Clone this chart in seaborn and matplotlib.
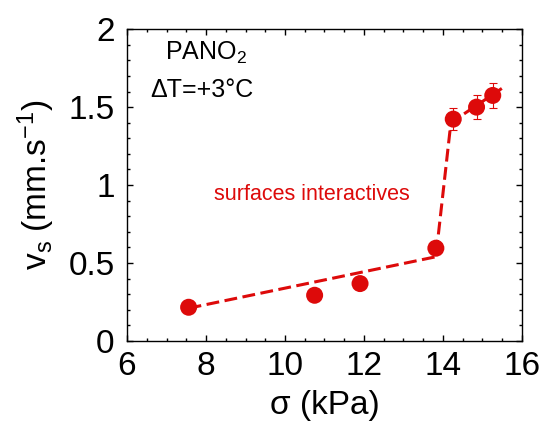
import matplotlib
matplotlib.use("Agg")
import matplotlib.pyplot as plt
import pandas as pd
import numpy as np
import seaborn as sns
from matplotlib.ticker import MultipleLocator

# measured points
sigma = [7.56, 10.75, 11.9, 13.82, 14.26, 14.85, 15.26]
vs = [0.216, 0.293, 0.368, 0.595, 1.423, 1.50, 1.575]
vs_err = [0, 0, 0, 0, 0.07, 0.075, 0.078]

# dashed guide line
fit_sigma = [7.56, 13.82, 14.2, 15.49]
fit_vs = [0.21, 0.54, 1.40, 1.62]

df = pd.DataFrame({"sigma": sigma, "vs": vs, "err": vs_err})
df_fit = pd.DataFrame({"sigma": fit_sigma, "vs": fit_vs})

sns.set_style("ticks")
plt.rcParams["font.family"] = ["Liberation Sans", "DejaVu Sans"]
plt.rcParams["mathtext.fontset"] = "custom"
plt.rcParams["mathtext.rm"] = "Liberation Sans"
plt.rcParams["mathtext.it"] = "Liberation Sans"
plt.rcParams["mathtext.default"] = "regular"
plt.rcParams["text.color"] = "black"
plt.rcParams["axes.labelcolor"] = "black"

red = "#dd0a0a"
fig = plt.figure(figsize=(5.44, 4.23), dpi=100)
ax = fig.add_axes([0.2335, 0.194, 0.726, 0.737])

sns.lineplot(data=df_fit, x="sigma", y="vs", sort=False, color=red, lw=2.2, ax=ax)
ax.lines[-1].set_linestyle((0, (4.2, 1.8)))
ax.errorbar(df["sigma"], df["vs"], yerr=df["err"], fmt="none", ecolor=red, elinewidth=0.8, capsize=3, capthick=0.8)
sns.scatterplot(data=df, x="sigma", y="vs", color=red, s=150, edgecolor="none", ax=ax, zorder=3)

ax.set_xlim(6, 16)
ax.set_ylim(0, 2)
ax.xaxis.set_major_locator(MultipleLocator(2))
ax.xaxis.set_minor_locator(MultipleLocator(0.5))
ax.yaxis.set_minor_locator(MultipleLocator(0.1))
ax.set_yticks([0, 0.5, 1, 1.5, 2])
ax.set_yticklabels(["0", "0.5", "1", "1.5", "2"])
ax.tick_params(which="both", direction="in", top=True, right=True, labelsize=24,
               width=1, color="black", labelcolor="black")
ax.tick_params(which="major", length=4.5)
ax.tick_params(axis="x", which="major", pad=7)
ax.tick_params(axis="y", which="major", pad=9)
ax.tick_params(which="minor", length=2.5)
for s in ax.spines.values():
    s.set_linewidth(1)
    s.set_color("black")

ax.set_xlabel("σ (kPa)", fontsize=24, labelpad=6)
ax.set_ylabel("v$_s$ (mm.s$^{-1}$)", fontsize=24, labelpad=8)

ax.text(0.095, 0.965, "PANO$_2$", transform=ax.transAxes, fontsize=18, va="top", ha="left")
ax.text(0.058, 0.843, "ΔT=+3°C", transform=ax.transAxes, fontsize=18, va="top", ha="left")
ax.text(10.67, 0.94, "surfaces interactives", color=red, fontsize=15.5, ha="center", va="center")

fig.savefig("out.png", dpi=100)
